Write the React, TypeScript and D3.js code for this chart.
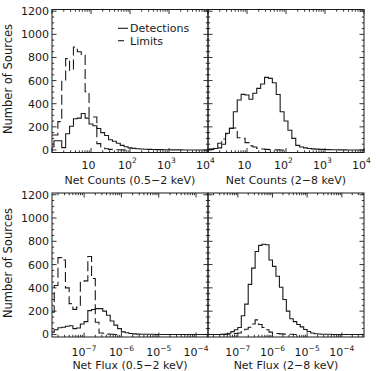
import React from 'react';
import * as d3 from 'd3';

// every histogram uses 0.1 dex wide bins in log space
const BIN = 0.1;

const yTickValues = [0, 200, 400, 600, 800, 1000, 1200];
const countExponents = [1, 2, 3, 4];
const fluxExponents = [-7, -6, -5, -4];

// net counts, 0.5-2 keV (first bin lower edge in log10)
const softCountsStart = -0.05;
const softCountsDet = [25, 80, 80, 20, 140, 205, 270, 275, 315, 275, 225, 210, 185, 150, 125, 88, 75, 58, 40, 28, 18, 14, 10, 8, 6, 5, 4, 3, 3, 2, 2, 1, 1, 1, 0, 0, 0, 0, 0, 0, 0];
const softCountsLim = [130, 130, 245, 600, 790, 690, 890, 850, 820, 503, 285, 285, 55, 25, 10, 5, 3, 2, 1, 0];

// net counts, 2-8 keV
const hardCountsStart = -0.05;
const hardCountsDet = [5, 8, 12, 18, 50, 144, 187, 331, 432, 481, 475, 438, 490, 533, 570, 628, 619, 581, 480, 330, 250, 170, 100, 40, 25, 18, 12, 9, 7, 5, 4, 3, 2, 2, 1, 1, 0, 0, 0, 0, 0];
const hardCountsLim = [2, 5, 15, 58, 95, 140, 187, 190, 105, 100, 63, 35, 25, 12, 8, 5, 3, 2, 1, 0];

// net flux, 0.5-2 keV
const softFluxStart = -7.9;
const softFluxDet = [20, 40, 58, 62, 70, 75, 50, 55, 90, 110, 205, 214, 222, 222, 200, 165, 115, 80, 50, 22, 15, 8, 5, 3, 2, 1, 1, 1, 0, 0, 0, 0, 0, 0, 0, 0, 0, 0, 0, 0, 0, 0, 0];
const softFluxLim = [190, 420, 660, 640, 400, 265, 215, 235, 455, 460, 670, 480, 105, 12, 10, 3, 2, 0];

// net flux, 2-8 keV
const hardFluxStart = -7.9;
const hardFluxDet = [0, 0, 0, 0, 2, 4, 10, 24, 40, 60, 160, 260, 430, 570, 712, 765, 775, 770, 640, 585, 500, 405, 300, 200, 135, 110, 85, 65, 42, 25, 12, 6, 4, 2, 2, 1, 0, 0, 0, 0, 0, 0, 0, 0, 0, 0];
const hardFluxLim = [0, 0, 0, 0, 0, 0, 2, 5, 8, 12, 25, 45, 62, 90, 125, 85, 60, 40, 20, 10, 8, 5, 3, 2, 1, 0];

const FONT = '"DejaVu Sans", Verdana, sans-serif';
const INK = '#1a1a1a';

type PanelProps = {
  id: string;
  left: number;
  top: number;
  width: number;
  height: number;
  logMin: number;
  logMax: number;
  start: number;
  det: number[];
  lim: number[];
  exps: number[];
  title: string;
  yLabels: boolean;
  legend: boolean;
  tickBase: number;
  titleBase: number;
  labelShift: number;
};

const stepPath = (vals: number[], start: number, x: any, y: any) => {
  const pts: [number, number][] = vals.map((v, i) => [x(10 ** (start + i * BIN)), y(v)]);
  pts.push([x(10 ** (start + vals.length * BIN)), y(vals[vals.length - 1])]);
  return d3.line().curve(d3.curveStepAfter)(pts) || '';
};

const Panel = (p: PanelProps) => {
  const x = d3
    .scaleLog()
    .domain([10 ** p.logMin, 10 ** p.logMax])
    .range([p.left, p.left + p.width]);
  const y = d3
    .scaleLinear()
    .domain([-22, 1215])
    .range([p.top + p.height, p.top]);
  const right = p.left + p.width;
  const bottom = p.top + p.height;

  // decade ticks and 2..9 minor ticks inside the log range
  const major: number[] = [];
  const minor: number[] = [];
  for (let d = Math.floor(p.logMin); d <= Math.ceil(p.logMax); d++) {
    if (d >= p.logMin && d <= p.logMax) major.push(10 ** d);
    for (let m = 2; m <= 9; m++) {
      const v = m * 10 ** d;
      const lv = Math.log10(v);
      if (lv > p.logMin && lv < p.logMax) minor.push(v);
    }
  }
  const yMinor = d3.range(0, 1201, 50).filter(v => v % 200 !== 0);

  const clip = `clip-${p.id}`;
  const tickLines: JSX.Element[] = [];
  major.forEach((v, i) => {
    const px = x(v);
    tickLines.push(<line key={`xb${i}`} x1={px} x2={px} y1={bottom} y2={bottom - 4.5} />);
    tickLines.push(<line key={`xt${i}`} x1={px} x2={px} y1={p.top} y2={p.top + 4.5} />);
  });
  minor.forEach((v, i) => {
    const px = x(v);
    tickLines.push(<line key={`mb${i}`} x1={px} x2={px} y1={bottom} y2={bottom - 2.2} />);
    tickLines.push(<line key={`mt${i}`} x1={px} x2={px} y1={p.top} y2={p.top + 2.2} />);
  });
  yTickValues.forEach((v, i) => {
    const py = y(v);
    tickLines.push(<line key={`yl${i}`} x1={p.left} x2={p.left + 4.5} y1={py} y2={py} />);
    tickLines.push(<line key={`yr${i}`} x1={right} x2={right - 4.5} y1={py} y2={py} />);
  });
  yMinor.forEach((v, i) => {
    const py = y(v);
    tickLines.push(<line key={`ml${i}`} x1={p.left} x2={p.left + 2.2} y1={py} y2={py} />);
    tickLines.push(<line key={`mr${i}`} x1={right} x2={right - 2.2} y1={py} y2={py} />);
  });

  return (
    <g>
      <defs>
        <clipPath id={clip}>
          <rect x={p.left} y={p.top} width={p.width} height={p.height} />
        </clipPath>
      </defs>
      <g clipPath={`url(#${clip})`} fill="none" stroke={INK} strokeWidth={1.1}>
        <path d={stepPath(p.lim, p.start, x, y)} strokeDasharray="10,4" />
        <path d={stepPath(p.det, p.start, x, y)} />
      </g>
      <rect x={p.left} y={p.top} width={p.width} height={p.height} fill="none" stroke={INK} strokeWidth={1} />
      <g stroke={INK} strokeWidth={0.9}>{tickLines}</g>
      <g fontFamily={FONT} fontSize={11} fill={INK}>
        {p.exps.map(e => (
          <text key={e} x={x(10 ** e) + p.labelShift} y={p.tickBase} textAnchor="middle">
            10
            {e !== 1 && (
              <tspan fontSize={7.5} dy={-5.5}>
                {e < 0 ? `\u2212${-e}` : `${e}`}
              </tspan>
            )}
          </text>
        ))}
        {p.yLabels &&
          yTickValues.map(v => (
            <text key={v} x={p.left - 3} y={y(v) + 4} textAnchor="end">
              {v}
            </text>
          ))}
        <text x={p.left + p.width / 2} y={p.titleBase} textAnchor="middle">
          {p.title}
        </text>
        {p.yLabels && (
          <text
            transform={`translate(11.5, ${p.top + p.height / 2 - 2}) rotate(-90)`}
            textAnchor="middle"
            fontSize={11.5}
          >
            Number of Sources
          </text>
        )}
        {p.legend && (
          <g>
            <line x1={118} x2={128} y1={28.3} y2={28.3} stroke={INK} strokeWidth={1.1} />
            <text x={130} y={32.2}>Detections</text>
            <line x1={118} x2={124} y1={40.7} y2={40.7} stroke={INK} strokeWidth={1.1} />
            <text x={130} y={44.6}>Limits</text>
          </g>
        )}
      </g>
    </g>
  );
};

const App = () => {
  const topRow = { top: 9.5, height: 143, tickBase: 168.5, titleBase: 184, labelShift: -2.5 };
  const bottomRow = { top: 193, height: 144, tickBase: 356, titleBase: 369, labelShift: 0 };
  return (
    <svg
      width={376}
      height={371}
      style={{ position: 'absolute', left: 0, top: 0, background: '#fff' }}
    >
      <Panel
        id="a"
        {...topRow}
        left={52}
        width={156}
        logMin={0}
        logMax={4}
        start={softCountsStart}
        det={softCountsDet}
        lim={softCountsLim}
        exps={countExponents}
        title={'Net Counts (0.5\u22122 keV)'}
        yLabels={true}
        legend={true}
      />
      <Panel
        id="b"
        {...topRow}
        left={208}
        width={156}
        logMin={0}
        logMax={4}
        start={hardCountsStart}
        det={hardCountsDet}
        lim={hardCountsLim}
        exps={countExponents}
        title={'Net Counts (2\u22128 keV)'}
        yLabels={false}
        legend={false}
      />
      <Panel
        id="c"
        {...bottomRow}
        left={52}
        width={156}
        logMin={-7.86}
        logMax={-3.68}
        start={softFluxStart}
        det={softFluxDet}
        lim={softFluxLim}
        exps={fluxExponents}
        title={'Net Flux (0.5\u22122 keV)'}
        yLabels={true}
        legend={false}
      />
      <Panel
        id="d"
        {...bottomRow}
        left={208}
        width={156}
        logMin={-7.86}
        logMax={-3.36}
        start={hardFluxStart}
        det={hardFluxDet}
        lim={hardFluxLim}
        exps={fluxExponents}
        title={'Net Flux (2\u22128 keV)'}
        yLabels={false}
        legend={false}
      />
    </svg>
  );
};

export default App;
